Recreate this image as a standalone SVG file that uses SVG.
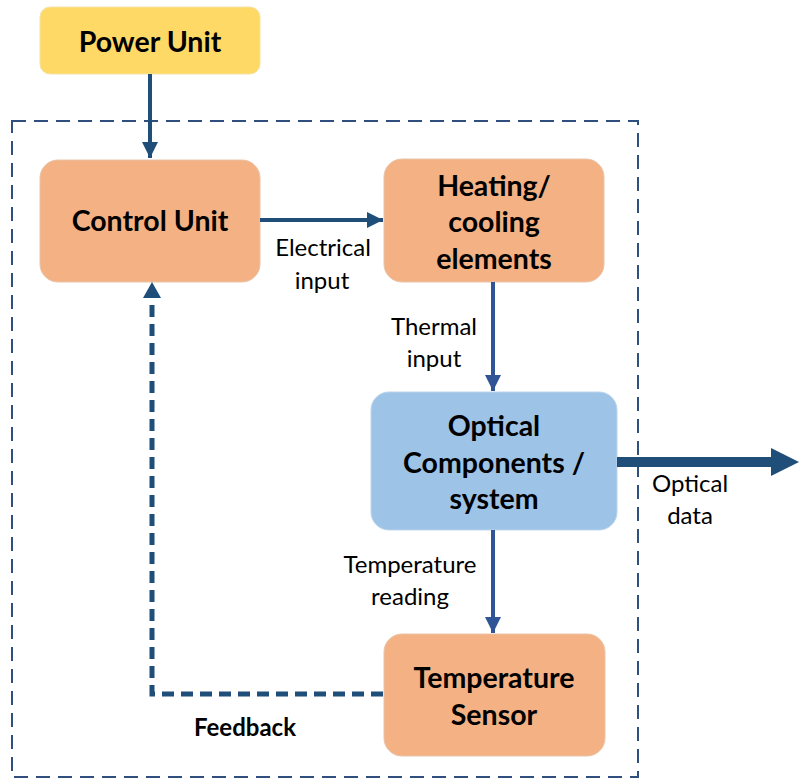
<svg xmlns="http://www.w3.org/2000/svg" width="799" height="782" viewBox="0 0 799 782">
  <style>
    .node-title { font-family: Lato, "Open Sans", "Liberation Sans", sans-serif; font-weight: 700; font-size: 28.5px; fill: #000; text-anchor: middle; }
    .label { font-family: Lato, "Open Sans", "Liberation Sans", sans-serif; font-size: 24px; fill: #000; text-anchor: middle; }
    .label-bold { font-family: Lato, "Open Sans", "Liberation Sans", sans-serif; font-weight: 700; font-size: 24px; fill: #000; text-anchor: middle; }
    .orange { fill: #F4B183; stroke: #E8C4A8; stroke-width: 1; }
    .link { fill: none; stroke: #1F4E79; stroke-width: 4; }
    .link-blue { fill: none; stroke: #2F5597; stroke-width: 4; }
  </style>
  <defs>
    <marker id="head" viewBox="0 0 10 10" refX="10" refY="5" markerWidth="4" markerHeight="4" markerUnits="strokeWidth" orient="auto">
      <path d="M0,0 L10,5 L0,10 z" fill="#1F4E79"/>
    </marker>
    <marker id="head-blue" viewBox="0 0 10 10" refX="10" refY="5" markerWidth="4" markerHeight="4" markerUnits="strokeWidth" orient="auto">
      <path d="M0,0 L10,5 L0,10 z" fill="#2F5597"/>
    </marker>
  </defs>

  <rect width="799" height="782" fill="#fff"/>

  <!-- system boundary -->
  <rect id="boundary" x="12" y="121" width="626" height="656" fill="none" stroke="#2F4F7F" stroke-width="2" stroke-dasharray="14 8"/>

  <g id="power-unit">
    <rect x="40" y="7" width="220" height="67" rx="10" fill="#FFD966" stroke="#F3E3A6" stroke-width="1"/>
    <text class="node-title" x="150" y="52">Power Unit</text>
  </g>

  <g id="control-unit">
    <rect class="orange" x="40" y="160" width="220" height="122" rx="18"/>
    <text class="node-title" x="150" y="231">Control Unit</text>
  </g>

  <g id="heating-cooling">
    <rect class="orange" x="384" y="159" width="220" height="123" rx="18"/>
    <text class="node-title" x="494" y="196">Heating/</text>
    <text class="node-title" x="494" y="232">cooling</text>
    <text class="node-title" x="494" y="269">elements</text>
  </g>

  <g id="optical-components">
    <rect x="371" y="392" width="246" height="138" rx="18" fill="#9DC3E6" stroke="#BDD5EC" stroke-width="1"/>
    <text class="node-title" x="494" y="436">Optical</text>
    <text class="node-title" x="494" y="473">Components /</text>
    <text class="node-title" x="494" y="509">system</text>
  </g>

  <g id="temperature-sensor">
    <rect class="orange" x="384" y="634" width="221" height="122" rx="18"/>
    <text class="node-title" x="494" y="688">Temperature</text>
    <text class="node-title" x="494" y="725">Sensor</text>
  </g>

  <g id="connectors">
    <path class="link" d="M150,74 V158" marker-end="url(#head)"/>
    <path class="link" d="M260,220 H383" marker-end="url(#head)"/>
    <path class="link-blue" d="M493,282 V391" marker-end="url(#head-blue)"/>
    <path class="link-blue" d="M493,530 V633" marker-end="url(#head-blue)"/>
    <!-- optical data output -->
    <path d="M617,462 H775" fill="none" stroke="#1F4E79" stroke-width="10"/>
    <path d="M771,448 L799,462 L771,476 z" fill="#1F4E79"/>
    <!-- feedback loop -->
    <path d="M383,694 H152 V296" fill="none" stroke="#1F4E79" stroke-width="5" stroke-dasharray="12 7"/>
    <path d="M143,298 L152,282 L161,298 z" fill="#1F4E79"/>
  </g>

  <g id="labels">
    <text class="label" x="323" y="256">Electrical</text>
    <text class="label" x="322" y="289">input</text>
    <text class="label" x="434" y="335">Thermal</text>
    <text class="label" x="434" y="367">input</text>
    <text class="label" x="690" y="492">Optical</text>
    <text class="label" x="690" y="524">data</text>
    <text class="label" x="410" y="573">Temperature</text>
    <text class="label" x="410" y="605">reading</text>
    <text class="label-bold" x="245" y="736">Feedback</text>
  </g>
</svg>
